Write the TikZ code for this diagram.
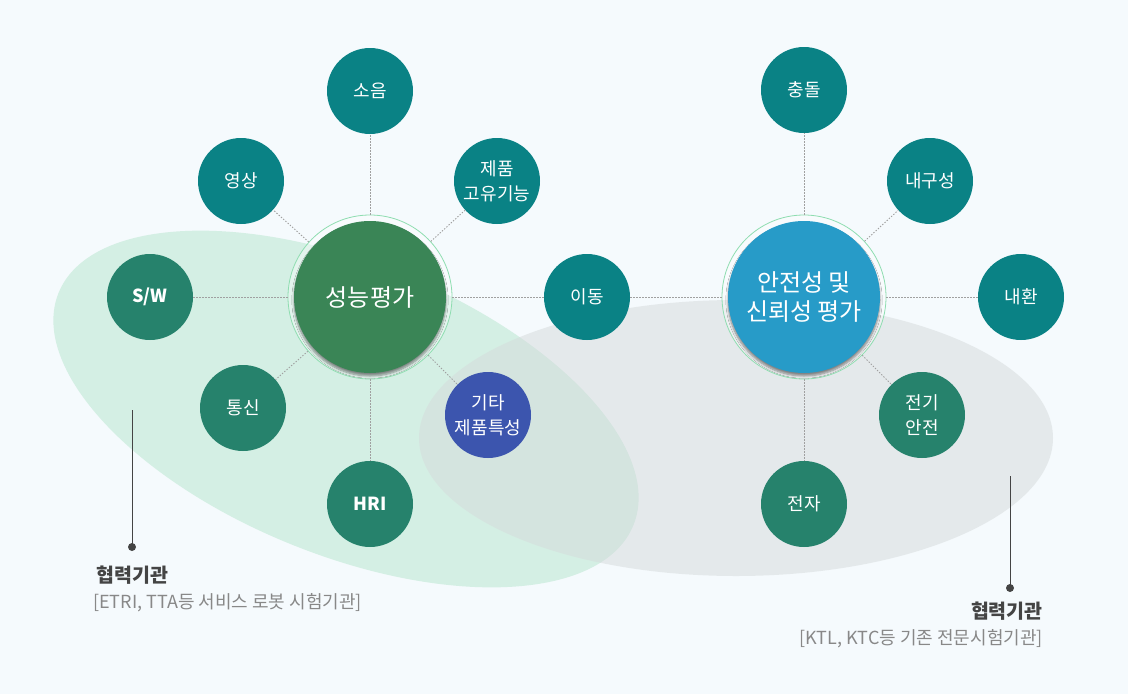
\documentclass[tikz,border=0pt]{standalone}
\usepackage{fontspec}
\setmainfont{Noto Sans CJK KR}
\usetikzlibrary{shadows.blur}
\definecolor{bgc}{RGB}{245,250,253}
\definecolor{greenell}{RGB}{212,239,228}
\definecolor{grayell}{RGB}{213,218,219}
\definecolor{tealc}{RGB}{10,130,133}
\definecolor{greenc}{RGB}{38,130,108}
\definecolor{perfc}{RGB}{58,133,86}
\definecolor{safec}{RGB}{39,155,200}
\definecolor{etcc}{RGB}{60,85,174}
\definecolor{ringc}{RGB}{142,221,176}
\definecolor{dotc}{RGB}{160,160,160}
\definecolor{darktxt}{RGB}{68,68,68}
\definecolor{lighttxt}{RGB}{136,136,136}
\begin{document}
\begin{tikzpicture}[x=1pt,y=-1pt,
  sat/.style={circle,minimum size=86pt,inner sep=0pt,text=white,align=center,
    font=\fontsize{18}{25}\selectfont},
  tealsat/.style={sat,fill=tealc},
  greensat/.style={sat,fill=greenc},
  hub/.style={circle,minimum size=152pt,inner sep=0pt,text=white,align=center,
    font=\fontsize{24}{29}\selectfont,
    blur shadow={shadow xshift=0pt,shadow yshift=-3pt,shadow blur steps=6,shadow opacity=45}},
  ring/.style={circle,minimum size=164pt,inner sep=0pt,draw=ringc,line width=0.8pt,fill=white,fill opacity=0.35},
  link/.style={draw=dotc,line width=0.9pt,dash pattern=on 1.4pt off 1.6pt},
  lead/.style={draw=darktxt,line width=1pt},
  leaddot/.style={circle,fill=darktxt,inner sep=0pt,minimum size=8pt},
  headtxt/.style={text=darktxt,font=\bfseries\fontsize{19.5}{22}\selectfont,inner sep=0pt},
  subtxt/.style={text=lighttxt,font=\fontsize{18}{22}\selectfont,inner sep=0pt}
]
\useasboundingbox (0,0) rectangle (1128,694);
\fill[bgc] (0,0) rectangle (1128,694);
% ellipses
\fill[greenell,rotate around={-22:(346,409)}] (346,409) ellipse [x radius=310pt,y radius=146pt];
\fill[grayell,fill opacity=0.5] (736,438) ellipse [x radius=317pt,y radius=138pt];
% rings
\node[ring] (pring) at (370,297) {};
\node[ring] (sring) at (804,297) {};
% hubs
\node[hub,fill=perfc] (perf) at (370,297) {성능평가};
\node[hub,fill=safec] (safe) at (804,297) {안전성 및\\신뢰성 평가};
% left satellites
\node[tealsat] (noise) at (370,91) {소음};
\node[tealsat] (image) at (241,181) {영상};
\node[tealsat] (func) at (497,181) {제품\\고유기능};
\node[greensat,font=\bfseries\fontsize{18}{25}\selectfont] (sw) at (150,297) {S/W};
\node[tealsat] (move) at (587,297) {이동};
\node[greensat] (comm) at (243,408) {통신};
\node[greensat,font=\bfseries\fontsize{18}{25}\selectfont] (hri) at (370,504) {HRI};
\node[sat,fill=etcc] (etc) at (488,415) {기타\\제품특성};
% right satellites
\node[tealsat] (crash) at (804,90) {충돌};
\node[tealsat] (dur) at (930,181) {내구성};
\node[tealsat] (env) at (1021,297) {내환};
\node[greensat] (elec) at (922,415) {전기\\안전};
\node[greensat] (emc) at (804,504) {전자};
% links
\foreach \n in {noise,image,func,sw,move,comm,hri,etc}
  \path[link] (pring) -- (\n);
\foreach \n in {crash,dur,env,elec,emc,move}
  \path[link] (sring) -- (\n);
% leaders
\node[leaddot] (ldot) at (132,547) {};
\coordinate (ltop) at (132,410);
\draw[lead] (ltop) -- (ldot.center);
\node[leaddot] (rdot) at (1010,588) {};
\coordinate (rtop) at (1010,476);
\draw[lead] (rtop) -- (rdot.center);
% captions
\node[headtxt,anchor=west] (lhead) at (96,575) {협력기관};
\node[subtxt,anchor=west] (lsub) at (93,603) {[ETRI, TTA등 서비스 로봇 시험기관]};
\node[headtxt,anchor=east] (rhead) at (1043,611) {협력기관};
\node[subtxt,anchor=east] (rsub) at (1043,639) {[KTL, KTC등 기존 전문시험기관]};
\end{tikzpicture}
\end{document}
